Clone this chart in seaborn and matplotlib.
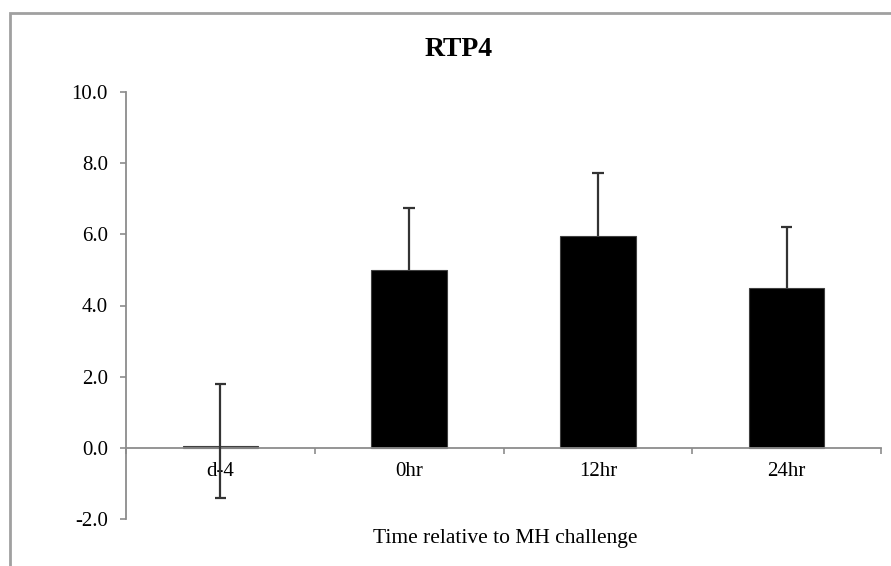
import matplotlib
matplotlib.use("Agg")
import matplotlib.pyplot as plt
import seaborn as sns
import pandas as pd
from matplotlib.patches import Rectangle

categories = ["d-4", "0hr", "12hr", "24hr"]
values = [0.05, 5.0, 5.95, 4.5]
err_low = [1.45, 0.0, 0.0, 0.0]
err_high = [1.75, 1.73, 1.78, 1.72]
y_ticks = [-2, 0, 2, 4, 6, 8, 10]

sns.set_style("white")
plt.rcParams["font.family"] = ["Liberation Serif", "DejaVu Serif"]
plt.rcParams["text.color"] = "black"
plt.rcParams["xtick.labelcolor"] = "black"
plt.rcParams["ytick.labelcolor"] = "black"

df = pd.DataFrame({"time": categories, "value": values})

fig = plt.figure(figsize=(8.91, 5.66), dpi=100)
ax = fig.add_axes([126 / 891, 1 - 519 / 566, (881 - 126) / 891, (519 - 92) / 566])

sns.barplot(data=df, x="time", y="value", color="black", width=0.4,
            edgecolor="#404040", linewidth=0.8, saturation=1, ax=ax)

# error bars: stem plus caps only where an error is given
centres = [p.get_x() + p.get_width() / 2 for p in ax.patches]
err_col = "#333333"
cap = 0.03
for c, v, lo, hi in zip(centres, values, err_low, err_high):
    ax.vlines(c, v - lo, v + hi, color=err_col, lw=1.6, zorder=5)
    if hi > 0:
        ax.hlines(v + hi, c - cap, c + cap, color=err_col, lw=1.6, zorder=5)
    if lo > 0:
        ax.hlines(v - lo, c - cap, c + cap, color=err_col, lw=1.6, zorder=5)

grey = "#8c8c8c"
ax.set_xlim(-0.5, len(categories) - 0.5)
ax.set_ylim(-2, 10)
ax.set_yticks(y_ticks)
ax.set_yticklabels([f"{t:.1f}" for t in y_ticks])

ax.spines["top"].set_visible(False)
ax.spines["right"].set_visible(False)
ax.spines["left"].set_color(grey)
ax.spines["bottom"].set_color(grey)
ax.spines["left"].set_linewidth(1.3)
ax.spines["bottom"].set_linewidth(1.3)
ax.spines["bottom"].set_position(("data", 0))

# boundary ticks on x axis, labels centred on categories
ax.set_xticks([i - 0.5 for i in range(len(categories) + 1)])
ax.set_xticklabels([])
ax.set_xticks(range(len(categories)), minor=True)
ax.set_xticklabels(categories, minor=True)
ax.tick_params(axis="x", which="major", direction="out", length=4.5, width=1.2, color=grey, bottom=True)
ax.tick_params(axis="x", which="minor", length=0, pad=10, labelsize=15)
ax.tick_params(axis="y", direction="out", length=4.5, width=1.2, color=grey, pad=8.5, labelsize=15, left=True)
ax.set_xlabel("")
ax.set_ylabel("")

fig.text(459 / 891, 1 - 49 / 566, "RTP4", ha="center", va="center", fontsize=20, fontweight="bold")
fig.text(505 / 891, 1 - 538 / 566, "Time relative to MH challenge", ha="center", va="center", fontsize=15.5)

# chart area border
fig.patches.append(Rectangle((10 / 891, -0.1), 1.2, 1 - 13 / 566 + 0.1, transform=fig.transFigure,
                             fill=False, edgecolor="#a0a0a0", linewidth=2))

fig.savefig("out.png", dpi=100)
